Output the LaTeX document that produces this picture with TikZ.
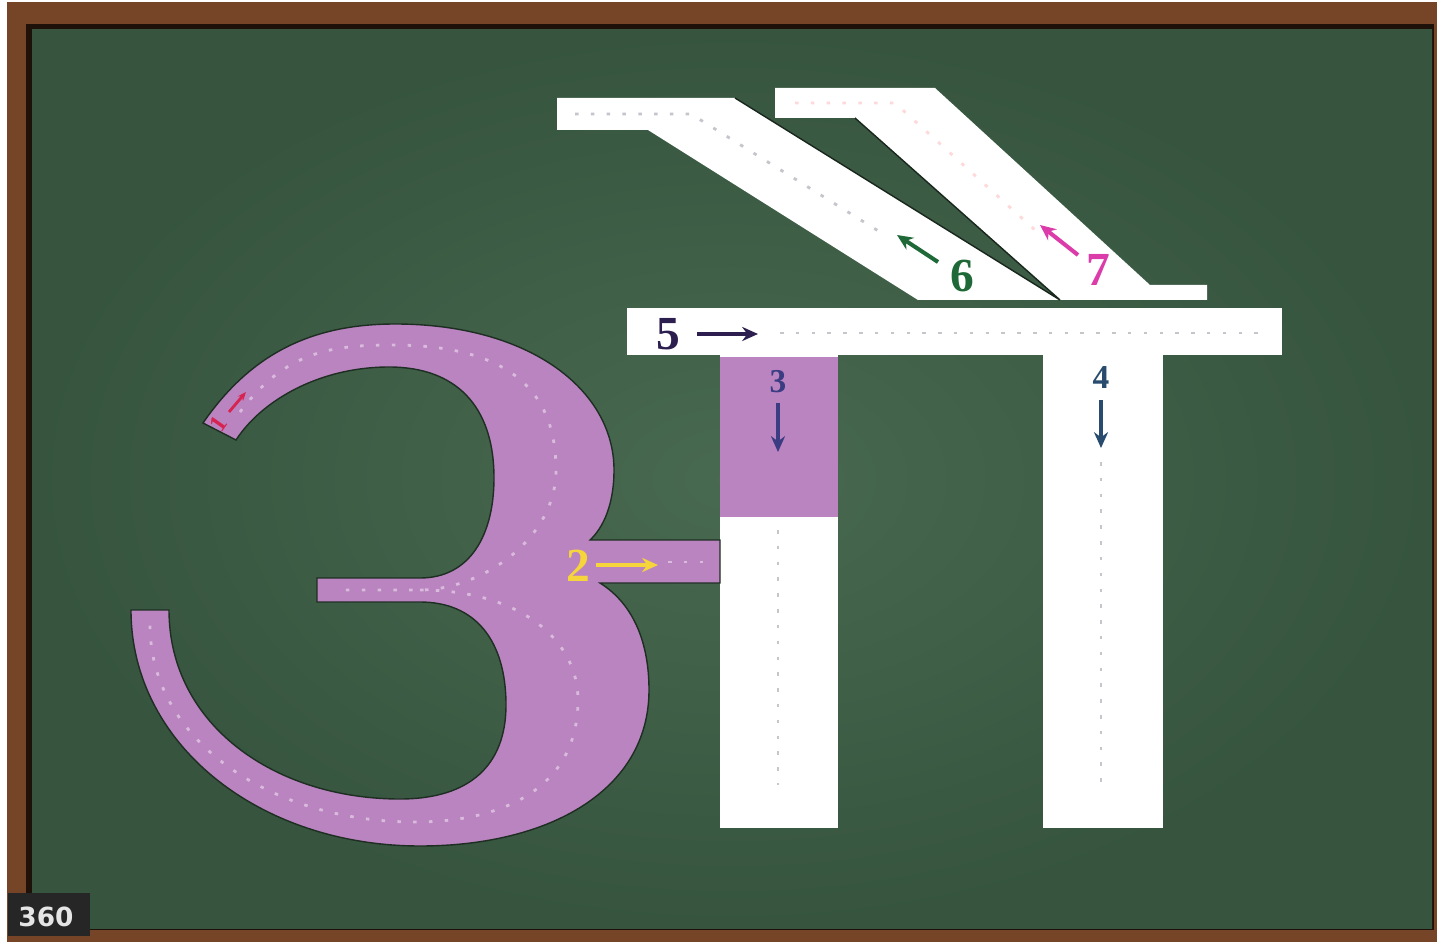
\documentclass[tikz,border=0pt]{standalone}
\usepackage{fontspec}
\setmainfont{Liberation Serif}
\setsansfont{DejaVu Sans}
\usetikzlibrary{arrows.meta,positioning}

\definecolor{wood}{RGB}{118,68,38}
\definecolor{boardlo}{RGB}{54,84,62}
\definecolor{boardhi}{RGB}{72,106,80}
\definecolor{lilac}{RGB}{186,132,192}
\definecolor{dotgrey}{RGB}{196,198,204}
\definecolor{oneRed}{RGB}{215,35,80}
\definecolor{twoYel}{RGB}{245,212,60}
\definecolor{threeBlu}{RGB}{60,60,130}
\definecolor{fourBlu}{RGB}{40,75,110}
\definecolor{fivePur}{RGB}{45,30,80}
\definecolor{sixGrn}{RGB}{30,105,55}
\definecolor{sevMag}{RGB}{220,60,170}

\begin{document}
\begin{tikzpicture}[
    x=0.02cm, y=-0.02cm,
    strokebox/.style={fill=white},
    lilacfill/.style={fill=lilac, draw=black!45!boardlo, line width=0.8pt},
    guide/.style={line width=1.6pt, dash pattern=on 2pt off 7pt},
    num/.style={font=\bfseries\fontsize{27}{27}\selectfont, inner sep=0pt},
    smallnum/.style={font=\bfseries\fontsize{19}{19}\selectfont, inner sep=0pt},
    tinynum/.style={font=\bfseries\fontsize{14}{14}\selectfont, inner sep=0pt},
    marrow/.style={-{Stealth[length=9pt,width=8pt]}, line width=2.3pt}
]
  \useasboundingbox (0,0) rectangle (1437,942);
  % chalkboard and frame
  \fill[white] (0,0) rectangle (1437,942);
  \fill[wood] (7,2) rectangle (1437,942);
  \fill[black!75!wood] (26,24) rectangle (1434,930);
  \shade[inner color=boardhi, outer color=boardlo] (32,30) rectangle (1432,928);

  % strokes 6 and 7
  \path[strokebox] (557,98) -- (735,98) -- (1060,300) -- (918,300)
    -- (648,130) -- (557,130) -- cycle;
  \path[strokebox] (775,88) -- (935,88) -- (1150,285) -- (1207,285)
    -- (1207,300) -- (1060,300) -- (855,118) -- (775,118) -- cycle;
  \draw[black!55!boardlo, line width=0.8pt] (855,118) -- (1060,300) -- (735,98);

  % stroke 5 and the two stems
  \path[strokebox] (627,308) rectangle (1282,355);
  \path[strokebox] (720,355) rectangle (838,828);
  \path[strokebox] (1043,355) rectangle (1163,828);
  \path[fill=lilac] (720,357) rectangle (838,517);

  % the curved part with stroke 2
  \path[lilacfill] (203,423) .. controls (250,355) and (310,324) .. (395,324)
    .. controls (530,324) and (614,390) .. (614,470)
    .. controls (614,505) and (603,528) .. (590,540)
    -- (720,540) -- (720,583) -- (600,583)
    .. controls (635,605) and (649,645) .. (649,690)
    .. controls (649,790) and (550,846) .. (420,846)
    .. controls (260,846) and (131,745) .. (131,610)
    -- (169,610)
    .. controls (169,725) and (275,799) .. (400,799)
    .. controls (470,799) and (506,765) .. (506,705)
    .. controls (506,640) and (475,602) .. (420,602)
    -- (317,602) -- (317,578) -- (420,578)
    .. controls (470,578) and (494,535) .. (494,478)
    .. controls (494,405) and (455,367) .. (389,367)
    .. controls (320,367) and (262,400) .. (236,440) -- cycle;

  % dotted guides
  \draw[guide, lilac!55!white] (240,412) .. controls (285,352) and (330,345) .. (392,345)
    .. controls (520,345) and (556,400) .. (556,470)
    .. controls (556,540) and (480,590) .. (420,590) -- (335,590);
  \draw[guide, lilac!55!white] (420,590) .. controls (520,590) and (578,640) .. (578,700)
    .. controls (578,790) and (500,822) .. (415,822)
    .. controls (270,822) and (150,740) .. (150,625);
  \draw[guide, lilac!55!white] (668,562) -- (715,562);
  \draw[guide, dotgrey] (780,333) -- (1268,333);
  \draw[guide, dotgrey] (778,530) -- (778,785);
  \draw[guide, dotgrey] (1101,462) -- (1101,785);
  \draw[guide, dotgrey] (575,114) -- (691,114) -- (880,232);
  \draw[guide, pink!60!white] (795,103) -- (895,103) -- (1035,230);

  % stroke numbers and arrows
  \node[tinynum, text=oneRed, rotate=55] (n1) at (218,424) {1};
  \coordinate (a1s) at (229,412);
  \coordinate (a1e) at (246,392);
  \draw[oneRed, -{Stealth[length=5pt,width=4pt]}, line width=1.6pt] (a1s) -- (a1e);

  \node[num, text=twoYel] (n2) at (578,566) {2};
  \coordinate (a2s) at (596,565);
  \coordinate (a2e) at (658,565);
  \draw[marrow, twoYel] (a2s) -- (a2e);

  \node[smallnum, text=threeBlu] (n3) at (778,382) {3};
  \coordinate (a3s) at (778,403);
  \coordinate (a3e) at (778,452);
  \draw[marrow, threeBlu, line width=2pt] (a3s) -- (a3e);

  \node[smallnum, text=fourBlu] (n4) at (1101,378) {4};
  \coordinate (a4s) at (1101,400);
  \coordinate (a4e) at (1101,448);
  \draw[marrow, fourBlu, line width=2pt] (a4s) -- (a4e);

  \node[num, text=fivePur] (n5) at (668,334) {5};
  \coordinate (a5s) at (697,334);
  \coordinate (a5e) at (758,334);
  \draw[marrow, fivePur] (a5s) -- (a5e);

  \node[num, text=sixGrn] (n6) at (962,276) {6};
  \coordinate (a6s) at (938,262);
  \coordinate (a6e) at (897,235);
  \draw[marrow, sixGrn] (a6s) -- (a6e);

  \node[num, text=sevMag] (n7) at (1098,270) {7};
  \coordinate (a7s) at (1078,255);
  \coordinate (a7e) at (1040,225);
  \draw[marrow, sevMag] (a7s) -- (a7e);

  % time badge
  \fill[black!85] (8,893) rectangle (90,936);
  \node[font=\sffamily\bfseries\fontsize{15}{15}\selectfont, text=white!90!black,
        inner sep=0pt] (badge) at (46,917) {360};
\end{tikzpicture}
\end{document}
